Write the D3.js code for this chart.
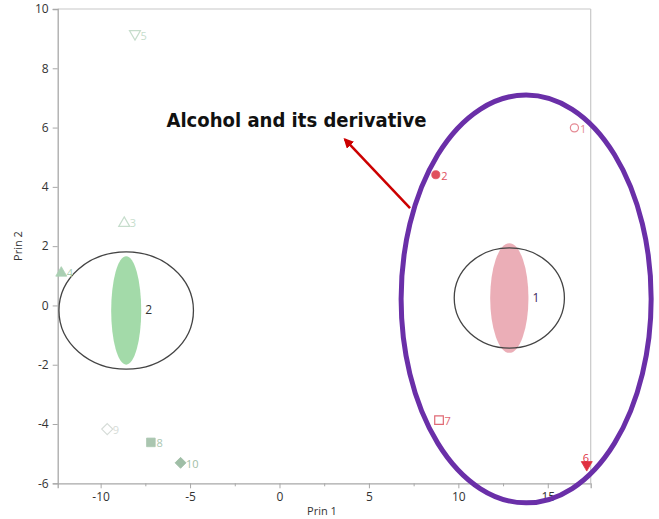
<!DOCTYPE html>
<html><head><meta charset="utf-8">
<script src="https://cdn.jsdelivr.net/npm/d3@7"></script>
<style>body{margin:0;background:#fff}svg{display:block}</style>
</head><body>
<svg id="c" width="659" height="519"></svg>
<script>
// Scores
const pointLabels = ["1","2","3","4","5","6","7","8","9","10"];
const prin1 = [16.49, 8.74, -8.68, -12.2, -8.08, 17.18, 8.92, -7.19, -9.63, -5.53];
const prin2 = [5.99, 4.41, 2.82, 1.14, 9.12, -5.42, -3.87, -4.62, -4.17, -5.31];
const pointShape = ["circleOpen","circle","triUpOpen","triUp","triDownOpen","triDown","squareOpen","square","diamondOpen","diamond"];
const pointColor = ["#e58a94","#e0505e","#c6ddcc","#a9cfb2","#c6ddcc","#e0303f","#e06874","#aac6b0","#d6dcd8","#9fbea6"];
// clusters
const clusterNames = ["1","2"];
const clusterCx = [12.85, -8.57];
const clusterCy = [0.25, -0.17];
const clusterRx = [3.08, 3.76];
const clusterRy = [1.69, 1.98];
const densRx = [1.07, 0.84];
const densRy = [1.85, 1.83];
const densColor = ["#e8a0aa","#93d39a"];
// axes
const xTicks = [-10, -5, 0, 5, 10, 15];
const xMinor = [-7.5, -2.5, 2.5, 7.5, 12.5];
const yTicks = [-6, -4, -2, 0, 2, 4, 6, 8, 10];
// annotation
const annoText = "Alcohol and its derivative";
const annoTextPos = [-6.32, 6.03];
const arrowFrom = [7.30, 3.28];
const arrowTo = [3.66, 5.60];
const annoEllipse = [13.79, 0.22, 6.99, 6.88];

const svg = d3.select("#c");
const x = d3.scaleLinear().domain([-12.4, 17.4]).range([57.7, 590.7]);
const y = d3.scaleLinear().domain([-6, 10]).range([483.3, 9]);
const font = "'Open Sans', 'Noto Sans', sans-serif";
const fmt = d => String(d);

// frame
svg.append("line").attr("x1", x(-12.4)).attr("x2", x(17.4)).attr("y1", y(10)).attr("y2", y(10)).attr("stroke", "#c8c8c8").attr("stroke-width", 1.2);
svg.append("line").attr("x1", x(17.4)).attr("x2", x(17.4)).attr("y1", y(10)).attr("y2", y(-6)).attr("stroke", "#c8c8c8").attr("stroke-width", 1.2);

svg.append("g").attr("transform", `translate(0,${y(-6)})`)
  .call(d3.axisBottom(x).tickValues(xTicks).tickSize(5).tickPadding(4).tickFormat(fmt));
svg.append("g").attr("transform", `translate(0,${y(-6)})`)
  .call(d3.axisBottom(x).tickValues(xMinor).tickSize(3).tickFormat(""))
  .call(g => g.select(".domain").remove());
svg.append("g").attr("transform", `translate(${x(-12.4)},0)`)
  .call(d3.axisLeft(y).tickValues(yTicks).tickSize(5).tickPadding(4).tickFormat(fmt));
svg.selectAll(".domain").attr("stroke", "#a8a8a8").attr("stroke-width", 1.3);
svg.selectAll(".tick line").attr("stroke", "#a8a8a8");
svg.selectAll(".tick text").attr("fill", "#333").style("font-family", font).style("font-size", "12px");

svg.append("text").attr("x", 322).attr("y", 515).attr("text-anchor", "middle")
  .style("font-family", font).style("font-size", "11px").attr("fill", "#333").text("Prin 1");
svg.append("text").attr("transform", "translate(22,246) rotate(-90)").attr("text-anchor", "middle")
  .style("font-family", font).style("font-size", "11px").attr("fill", "#333").text("Prin 2");

// density ellipses
const cl = svg.append("g");
clusterNames.forEach((n, i) => {
  cl.append("ellipse").attr("cx", x(clusterCx[i])).attr("cy", y(clusterCy[i]))
    .attr("rx", x(densRx[i]) - x(0)).attr("ry", y(0) - y(densRy[i]))
    .attr("fill", densColor[i]).attr("fill-opacity", 0.85);
  cl.append("ellipse").attr("cx", x(clusterCx[i])).attr("cy", y(clusterCy[i]))
    .attr("rx", x(clusterRx[i]) - x(0)).attr("ry", y(0) - y(clusterRy[i]))
    .attr("fill", "none").attr("stroke", "#444").attr("stroke-width", 1.3);
  cl.append("text").attr("x", x(clusterCx[i] + densRx[i]) + 4).attr("y", y(clusterCy[i]) + 4)
    .style("font-family", font).style("font-size", "12px").attr("fill", i === 0 ? "#3a2a5a" : "#333").text(n);
});

// points
function shapePath(s) {
  const r = 4.3;
  if (s.startsWith("circle")) return d3.symbol().type(d3.symbolCircle).size(52)();
  if (s.startsWith("square")) return `M${-r},${-r}H${r}V${r}H${-r}Z`;
  if (s.startsWith("diamond")) return `M0,${-5.5}L5.5,0L0,5.5L-5.5,0Z`;
  if (s.startsWith("triUp")) return `M0,-5L5.5,4.5H-5.5Z`;
  if (s.startsWith("triDown")) return `M0,5L5.5,-4.5H-5.5Z`;
}
const pts = svg.append("g");
pointLabels.forEach((lab, i) => {
  const open = pointShape[i].endsWith("Open");
  const g = pts.append("g").attr("transform", `translate(${x(prin1[i])},${y(prin2[i])})`);
  g.append("path").attr("d", shapePath(pointShape[i]))
    .attr("fill", open ? "none" : pointColor[i]).attr("stroke", pointColor[i]).attr("stroke-width", open ? 1.2 : 0.8);
  const lx = lab === "6" ? -4 : 5.5;
  const ly = lab === "6" ? -4 : 5;
  g.append("text").attr("x", lx).attr("y", ly)
    .style("font-family", font).style("font-size", "11px").attr("fill", pointColor[i]).text(lab);
});

// annotation
svg.append("ellipse").attr("cx", x(annoEllipse[0])).attr("cy", y(annoEllipse[1]))
  .attr("rx", x(annoEllipse[2]) - x(0)).attr("ry", y(0) - y(annoEllipse[3]))
  .attr("fill", "none").attr("stroke", "#6a2fa8").attr("stroke-width", 5);
svg.append("defs").append("marker").attr("id", "ah").attr("viewBox", "0 0 10 10")
  .attr("refX", 8).attr("refY", 5).attr("markerWidth", 4).attr("markerHeight", 4).attr("orient", "auto")
  .append("path").attr("d", "M0,0L10,5L0,10Z").attr("fill", "#cc0000");
svg.append("line").attr("x1", x(arrowFrom[0])).attr("y1", y(arrowFrom[1]))
  .attr("x2", x(arrowTo[0])).attr("y2", y(arrowTo[1]))
  .attr("stroke", "#cc0000").attr("stroke-width", 2.5).attr("marker-end", "url(#ah)");
svg.append("text").attr("x", x(annoTextPos[0])).attr("y", y(annoTextPos[1]))
  .attr("textLength", 260).attr("lengthAdjust", "spacingAndGlyphs")
  .style("font-family", "'DejaVu Sans', sans-serif").style("font-weight", "bold").style("font-size", "19px")
  .attr("fill", "#111").text(annoText);
</script>
</body></html>
